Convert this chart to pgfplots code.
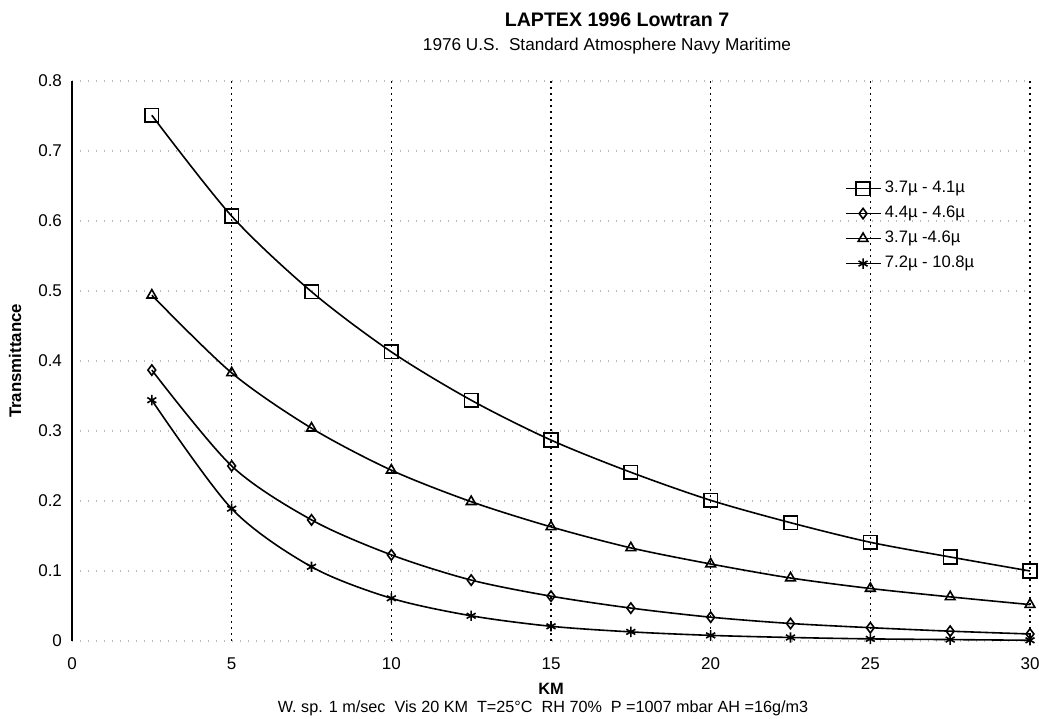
\documentclass[border=0pt]{standalone}
\usepackage{fontspec}
\setmainfont{Liberation Sans}
\usepackage{pgfplots}
\pgfplotsset{compat=1.18}
\begin{document}
\begin{tikzpicture}
\begin{axis}[name=ax, scale only axis, width=479pt, height=280pt,
  xmin=0, xmax=30, ymin=0, ymax=0.8,
  xtick={0,5,...,30}, ytick={0,0.1,0.2,0.3,0.4,0.5,0.6,0.7,0.8},
  yticklabels={0,0.1,0.2,0.3,0.4,0.5,0.6,0.7,0.8},
  axis line style={draw=none},
  major tick length=0pt,
  xmajorgrids, ymajorgrids,
  every axis x grid/.append style={black, line width=0.8pt, dash pattern=on 0.8pt off 2.2pt},
  every axis y grid/.append style={gray!55, line width=0.6pt, dash pattern=on 0.6pt off 3.4pt},
  /pgf/number format/assume math mode=true,
  tick label style={font=\fontsize{8.5}{10}\selectfont},
  xticklabel style={yshift=-5pt},
  yticklabel style={xshift=-1.5pt},
  legend style={at={(axis cs:24.2,0.663)}, anchor=north west, draw=none, fill=none,
    font=\fontsize{8.3}{9.6}\selectfont, row sep=1.2pt, inner sep=0pt},
  legend cell align=left,
  clip=false,
]
\draw[black, line width=0.8pt] (rel axis cs:0,0) -- (rel axis cs:0,1);
\addplot[black, line width=0.8pt, smooth, mark=square, mark size=3.4pt, mark options={fill=white, solid}] coordinates {
(2.5,0.751) (5,0.607) (7.5,0.499) (10,0.413) (12.5,0.344) (15,0.287) (17.5,0.241) (20,0.201) (22.5,0.169) (25,0.141) (27.5,0.120) (30,0.100)};
\addlegendentry{3.7µ - 4.1µ}
\addplot[black, line width=0.8pt, smooth, mark=diamond, mark size=2.6pt, mark options={fill=white, solid}] coordinates {
(2.5,0.387) (5,0.250) (7.5,0.173) (10,0.123) (12.5,0.087) (15,0.064) (17.5,0.047) (20,0.034) (22.5,0.025) (25,0.019) (27.5,0.014) (30,0.010)};
\addlegendentry{4.4µ - 4.6µ}
\addplot[black, line width=0.8pt, smooth, mark=triangle, mark size=2.8pt, mark options={fill=white, solid}] coordinates {
(2.5,0.494) (5,0.383) (7.5,0.304) (10,0.244) (12.5,0.199) (15,0.163) (17.5,0.133) (20,0.110) (22.5,0.090) (25,0.075) (27.5,0.063) (30,0.052)};
\addlegendentry{3.7µ -4.6µ}
\addplot[black, line width=0.8pt, smooth, mark=asterisk, mark size=2.6pt, mark options={solid}] coordinates {
(2.5,0.344) (5,0.189) (7.5,0.106) (10,0.061) (12.5,0.036) (15,0.021) (17.5,0.013) (20,0.008) (22.5,0.005) (25,0.003) (27.5,0.002) (30,0.001)};
\addlegendentry{7.2µ - 10.8µ}
\end{axis}
\node[font=\bfseries\fontsize{9.8}{11.5}\selectfont] at ([xshift=33pt,yshift=30.5pt]ax.north) {LAPTEX 1996 Lowtran 7};
\node[font=\fontsize{8.6}{10}\selectfont] at ([xshift=28pt,yshift=17.5pt]ax.north) {1976 U.S.\ \ Standard Atmosphere Navy Maritime};
\node[font=\bfseries\fontsize{8.4}{10}\selectfont, rotate=90] at ([xshift=-28.5pt]ax.west) {Transmittance};
\node[font=\bfseries\fontsize{8.2}{9.6}\selectfont] at ([yshift=-24pt]ax.south) {KM};
\node[font=\fontsize{8.1}{9.6}\selectfont] at ([xshift=-4pt,yshift=-33.5pt]ax.south) {W. sp. 1 m/sec\ \ Vis 20 KM\ \ T=25°C\ \ RH 70\%\ \ P =1007 mbar AH =16g/m3};
\pgfresetboundingbox
\useasboundingbox ([xshift=-36pt,yshift=-39pt]ax.south west) rectangle ([xshift=4.5pt,yshift=40.5pt]ax.north east);
\end{tikzpicture}
\end{document}
